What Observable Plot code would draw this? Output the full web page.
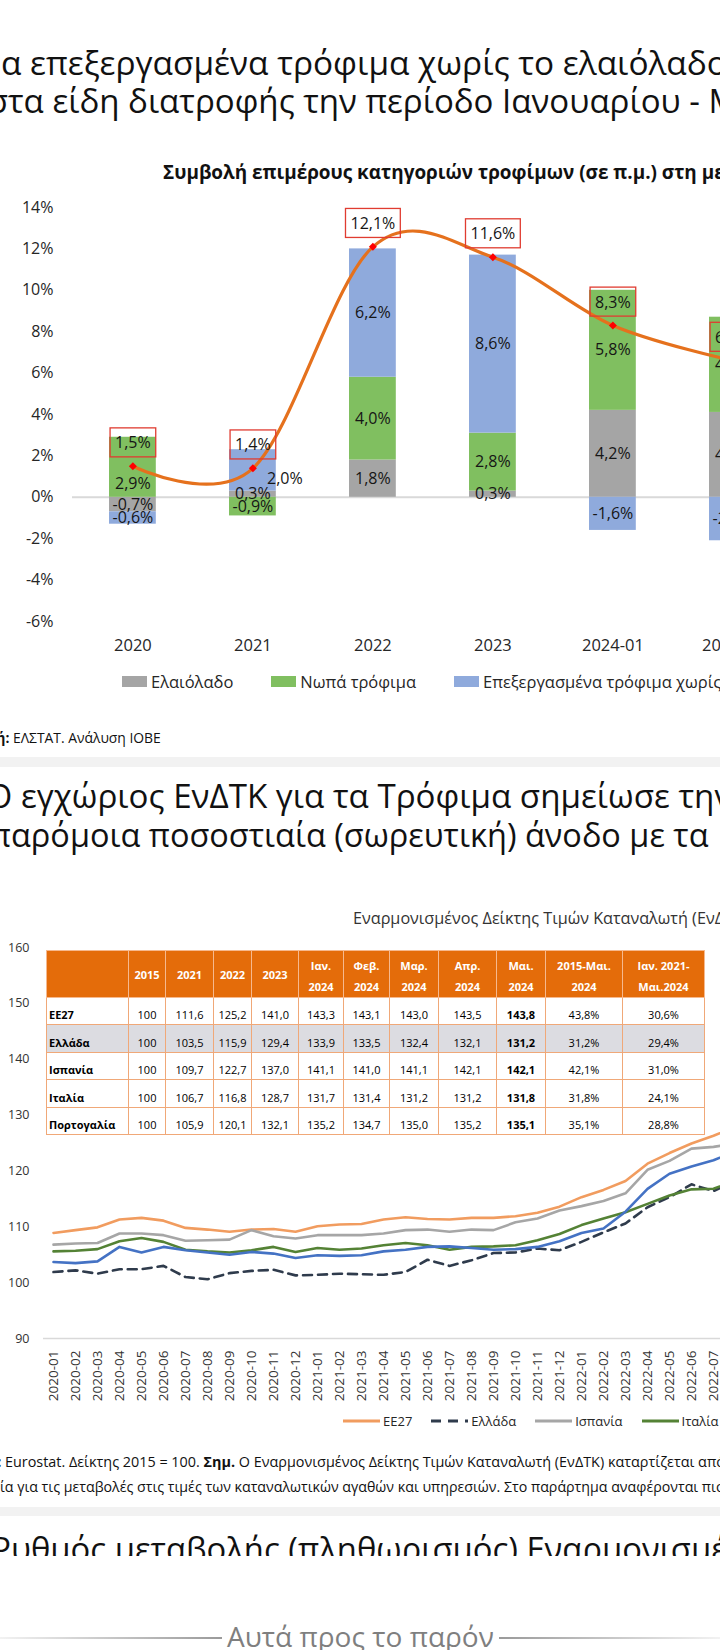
<!DOCTYPE html>
<html lang="el">
<head>
<meta charset="utf-8">
<title>ΕνΔΤΚ τροφίμων</title>
<script src="https://cdn.jsdelivr.net/npm/d3@7"></script>
<script src="https://cdn.jsdelivr.net/npm/@observablehq/plot@0.6"></script>
<style>
html, body { margin:0; padding:0; background:#fff; overflow:hidden; }
body { position:relative; width:720px; height:1650px; font-family:"Open Sans","Noto Sans",sans-serif; color:#111; }
.abs { position:absolute; white-space:nowrap; line-height:1.2; }
.band { position:absolute; left:0; width:720px; background:#F2F2F2; }
.chart { position:absolute; left:0; }
.legend { position:absolute; display:flex; align-items:center; white-space:nowrap; color:#262626; }
.legend .item { display:flex; align-items:center; }
table.hicp { position:absolute; left:46px; top:950px; width:658px; border-collapse:collapse; table-layout:fixed; font-size:11px; color:#000; background:#fff; }
table.hicp th { background:#E46C0A; color:#fff; font-weight:700; border:1px solid #F6B98E; text-align:center; vertical-align:top; padding:4px 0 0 0; line-height:21px; height:41px; }
table.hicp th.one { vertical-align:middle; padding:0; }
table.hicp td { border:1px solid #F0A878; text-align:center; vertical-align:bottom; padding:0 0 2px 0; line-height:14px; height:24.4px; }
table.hicp td.name { text-align:left; font-weight:700; padding-left:2px; }
table.hicp tr.gr td { background:#DCDCE1; }
table.hicp td.b { font-weight:700; }
</style>
</head>
<body>
<script>
// ================= DATA : chart 1 (contributions, p.p.) =================
const barCategories = ["2020", "2021", "2022", "2023", "2024-01", "2024-02"];
const barSeries = ["Ελαιόλαδο", "Νωπά τρόφιμα", "Επεξεργασμένα τρόφιμα χωρίς το ελαιόλαδο"];
const oliveOil      = [-0.7,  0.3, 1.8, 0.3,  4.2,  4.1];
const freshFood     = [ 2.9, -0.9, 4.0, 2.8,  5.8,  4.6];
const processedFood = [-0.6,  2.0, 6.2, 8.6, -1.6, -2.1];
const totalChange   = [ 1.5,  1.4, 12.1, 11.6, 8.3, 6.6];
const yTicks1 = [-6, -4, -2, 0, 2, 4, 6, 8, 10, 12, 14];

// ================= DATA : chart 2 (HICP food, 2015 = 100) =================
const months = ["2020-01","2020-02","2020-03","2020-04","2020-05","2020-06","2020-07","2020-08","2020-09","2020-10","2020-11","2020-12",
                "2021-01","2021-02","2021-03","2021-04","2021-05","2021-06","2021-07","2021-08","2021-09","2021-10","2021-11","2021-12",
                "2022-01","2022-02","2022-03","2022-04","2022-05","2022-06","2022-07","2022-08"];
const countries = ["ΕΕ27", "Ελλάδα", "Ισπανία", "Ιταλία", "Πορτογαλία"];
const ee27     = [108.9,109.4,109.9,111.3,111.6,111.1,109.8,109.5,109.1,109.5,109.6,109.1,
                  110.1,110.4,110.5,111.3,111.7,111.4,111.3,111.6,111.6,111.9,112.5,113.6,
                  115.3,116.6,118.2,121.3,123.2,124.9,126.3,127.9];
const greece   = [101.9,102.2,101.6,102.4,102.4,103.0,101.0,100.6,101.7,102.1,102.3,101.3,
                  101.4,101.6,101.5,101.4,101.9,104.1,103.0,104.0,105.3,105.4,106.1,105.8,
                  107.3,109.0,110.6,113.5,115.3,117.6,116.4,118.2];
const spain    = [106.8,107.0,107.1,108.8,108.8,108.5,107.5,107.6,107.7,109.4,108.3,107.9,
                  108.5,108.5,108.5,108.8,109.4,109.5,109.1,109.5,109.4,110.8,111.5,112.9,
                  113.7,114.6,116.0,120.2,121.8,124.0,124.3,124.9];
const italy    = [105.6,105.7,106.0,107.4,108.0,107.3,105.9,105.6,105.4,105.8,106.4,105.5,
                  106.2,105.9,106.1,106.7,107.1,106.7,105.9,106.4,106.5,106.7,107.6,108.7,
                  110.3,111.5,112.6,114.1,115.6,116.7,116.8,118.3];
const portugal = [103.7,103.5,103.8,106.4,105.4,106.4,105.8,105.4,105.0,105.5,105.2,104.4,
                  104.9,104.8,104.9,105.6,105.9,106.4,106.5,106.2,105.9,106.0,106.4,107.4,
                  108.9,109.7,112.7,116.8,119.5,120.8,121.9,123.5];
const yTicks2 = [90, 100, 110, 120, 130, 140, 150, 160];

// ================= DATA : table =================
const tableHead = [[""], ["2015"], ["2021"], ["2022"], ["2023"], ["Ιαν.", "2024"], ["Φεβ.", "2024"], ["Μαρ.", "2024"],
                   ["Απρ.", "2024"], ["Μαι.", "2024"], ["2015-Μαι.", "2024"], ["Ιαν. 2021-", "Μαι.2024"]];
const tableRows = [
  ["ΕΕ27",       "100", "111,6", "125,2", "141,0", "143,3", "143,1", "143,0", "143,5", "143,8", "43,8%", "30,6%"],
  ["Ελλάδα",     "100", "103,5", "115,9", "129,4", "133,9", "133,5", "132,4", "132,1", "131,2", "31,2%", "29,4%"],
  ["Ισπανία",    "100", "109,7", "122,7", "137,0", "141,1", "141,0", "141,1", "142,1", "142,1", "42,1%", "31,0%"],
  ["Ιταλία",     "100", "106,7", "116,8", "128,7", "131,7", "131,4", "131,2", "131,2", "131,8", "31,8%", "24,1%"],
  ["Πορτογαλία", "100", "105,9", "120,1", "132,1", "135,2", "134,7", "135,0", "135,2", "135,1", "35,1%", "28,8%"]
];

// ================= styles =================
const barColors  = ["#A5A5A5", "#80BF60", "#8FAADC"];
const lineColors = ["#F19C5F", "#2F3B4C", "#A6A6A6", "#548235", "#4472C4"];
const colWidths  = [82, 37, 48, 38, 47, 45, 46, 49, 58, 49, 77, 82];

const body = document.body;
function div(cls, css) { const d = document.createElement("div"); if (cls) d.className = cls; Object.assign(d.style, css || {}); body.appendChild(d); return d; }

// separator bands
div("band", {top: "757px", height: "10px"});
div("band", {top: "1507px", height: "9px"});

// ================= chart 1 =================
const pct = v => (v < 0 ? "-" : "") + Math.abs(v).toFixed(1).replace(".", ",") + "%";
const seriesValues = [oliveOil, freshFood, processedFood];
const barData = barCategories.flatMap((cat, i) => barSeries.map((s, k) => ({cat, series: s, value: seriesValues[k][i]})));
const totalData = barCategories.map((cat, i) => ({cat, total: totalChange[i]}));
const movedA = d => d.cat === "2020" && d.series === barSeries[1];
const movedB = d => d.cat === "2021" && d.series === barSeries[2];

const chart1 = Plot.plot({
  width: 800, height: 540,
  marginLeft: 72, marginRight: 0, marginTop: 0, marginBottom: 99,
  style: {background: "transparent", maxWidth: "none", overflow: "visible", fontFamily: "'Open Sans', sans-serif", color: "#262626"},
  x: {type: "band", domain: barCategories, range: [72.4, 72.4 + 120 * barCategories.length], paddingInner: 0.61, paddingOuter: 0.305, round: false},
  y: {domain: [-6, 14], range: [441, 27]},
  color: {domain: barSeries, range: barColors},
  marks: [
    Plot.ruleY([0], {stroke: "#D9D9D9", strokeWidth: 2}),
    Plot.axisY({ticks: yTicks1, tickSize: 0, tickPadding: 19, tickFormat: d => d + "%", fontSize: 16, label: null}),
    Plot.axisX({tickSize: 0, tickPadding: 18, fontSize: 16.5, label: null}),
    Plot.barY(barData, {x: "cat", y: "value", fill: "series"}),
    Plot.text(barData, Plot.stackY({x: "cat", y: "value", text: d => (movedA(d) || movedB(d)) ? "" : pct(d.value), fontSize: 16, fill: "#161616"})),
    Plot.text(barData, Plot.stackY({x: "cat", y: "value", text: d => movedA(d) ? pct(d.value) : "", fontSize: 16, fill: "#161616", dy: 17})),
    Plot.text(barData, Plot.stackY({x: "cat", y: "value", text: d => movedB(d) ? pct(d.value) : "", fontSize: 16, fill: "#161616", dx: 32, dy: 8})),
    Plot.line(totalData, {x: "cat", y: "total", curve: "cardinal", stroke: "#E5711D", strokeWidth: 3.2}),
    Plot.dot(totalData, {x: "cat", y: "total", symbol: "diamond2", r: 3.6, fill: "#FF0000"}),
    Plot.text(totalData, {x: "cat", y: "total", text: d => pct(d.total), dy: -23, fontSize: 16, fill: "#161616"})
  ]
});
chart1.classList.add("chart");
chart1.style.top = "180px";
body.appendChild(chart1);
// red frames around the total labels
const totalLabels = new Set(totalChange.map(pct));
chart1.querySelectorAll("text").forEach(t => {
  if (!totalLabels.has(t.textContent.trim())) return;
  const b = t.getBBox();
  const r = document.createElementNS("http://www.w3.org/2000/svg", "rect");
  r.setAttribute("x", b.x - 5); r.setAttribute("y", b.y - 3.5);
  r.setAttribute("width", b.width + 10); r.setAttribute("height", b.height + 7);
  r.setAttribute("fill", "none"); r.setAttribute("stroke", "#E03C31"); r.setAttribute("stroke-width", 1.3);
  if (t.getAttribute("transform")) r.setAttribute("transform", t.getAttribute("transform"));
  t.parentNode.insertBefore(r, t);
});

// ================= chart 2 =================
const seriesList = [ee27, greece, spain, italy, portugal];
const lineData = countries.flatMap((country, k) => months.map((month, i) => ({country, month, value: seriesList[k][i]})));
const chart2 = Plot.plot({
  width: 800, height: 520,
  marginLeft: 43, marginRight: 0, marginTop: 0, marginBottom: 82,
  style: {background: "transparent", maxWidth: "none", overflow: "visible", fontFamily: "'Open Sans', sans-serif", color: "#333"},
  x: {type: "point", domain: months, range: [53, 53 + 22 * (months.length - 1)], padding: 0, round: false},
  y: {domain: [90, 160], range: [438, 47]},
  marks: [
    Plot.ruleY([90], {stroke: "#D9D9D9", strokeWidth: 1.5}),
    Plot.axisY({ticks: yTicks2, tickSize: 0, tickPadding: 14, fontSize: 12.5, label: null}),
    Plot.axisX({tickRotate: -90, tickSize: 0, tickPadding: 12, fontSize: 13.5, label: null}),
    ...countries.map((c, k) => Plot.line(lineData.filter(d => d.country === c), Object.assign(
      {x: "month", y: "value", stroke: lineColors[k], strokeWidth: 2.6},
      k === 1 ? {strokeDasharray: "9,6"} : {}
    )))
  ]
});
chart2.classList.add("chart");
chart2.style.top = "900px";
body.appendChild(chart2);

// ================= text placement helper =================
function place({pre = "", fit, rest = "", x0, x1, yc, capTop, weight = 400, color = "#111"}) {
  const el = div("abs", {fontWeight: weight, color, fontSize: "40px", left: "0px", top: "0px"});
  el.innerHTML = `<span>${pre}</span><span class="fit">${fit}</span><span>${rest}</span>`;
  const f = el.querySelector(".fit");
  const r0 = el.getBoundingClientRect(), rf = f.getBoundingClientRect();
  const s = 40 * (x1 - x0) / rf.width;
  const off = (rf.left - r0.left) * s / 40;
  el.style.fontSize = s + "px";
  el.style.left = (x0 - off) + "px";
  el.style.top = (capTop != null ? capTop - (0.988 - 0.714) * s : yc - (0.988 - 0.27) * s) + "px";
  return el;
}

// section 1 texts
place({fit: "α επεξεργασμένα τρόφιμα χωρίς το ελαιόλαδ", rest: "ο συνέβαλαν", x0: 1, x1: 707, yc: 65.5});
place({pre: "σ", fit: "τα είδη διατροφής την περίοδο Ιανουαρίου", rest: " - Μαΐου 2024", x0: 8, x1: 681, yc: 105});
place({fit: "Συμβολή επιμέρους κατηγοριών τροφίμων (σε π.μ.) στη", rest: " μεταβολή του ΕνΔΤΚ τροφίμων", x0: 163, x1: 697, yc: 175, weight: 700});
place({pre: "<b>Πηγή:</b> ", fit: "ΕΛΣΤΑΤ. Ανάλυση ΙΟΒΕ", x0: 13, x1: 161, yc: 740, color: "#111"});

// legend 1
const lg1 = div("legend", {left: "122px", top: "669px", height: "24px", fontSize: "16.5px", gap: "38px"});
barSeries.forEach((s, k) => {
  const it = document.createElement("div"); it.className = "item";
  it.innerHTML = `<span style="display:inline-block;width:25px;height:11px;background:${barColors[k]};margin-right:4px"></span><span>${s}</span>`;
  lg1.appendChild(it);
});

// section 2 texts
place({pre: "Ο ", fit: "εγχώριος ΕνΔΤΚ για τα Τρόφιμα σημείωσε", rest: " την", x0: 21, x1: 670, yc: 800});
place({pre: "π", fit: "αρόμοια ποσοστιαία (σωρευτική) άνοδο με", rest: " τα", x0: 11, x1: 665, yc: 839});
place({fit: "Εναρμονισμένος Δείκτης Τιμών Καταναλωτή", rest: " (ΕνΔΤΚ) για τα Τρόφιμα", x0: 353, x1: 688, yc: 921, color: "#333"});

// table (overlaid on the line chart)
const tbl = document.createElement("table"); tbl.className = "hicp";
const cg = document.createElement("colgroup");
colWidths.forEach(w => { const c = document.createElement("col"); c.style.width = w + "px"; cg.appendChild(c); });
tbl.appendChild(cg);
const hr = document.createElement("tr");
tableHead.forEach(h => { const th = document.createElement("th"); if (h.length === 1) th.className = "one"; th.innerHTML = h.join("<br>"); hr.appendChild(th); });
tbl.appendChild(hr);
tableRows.forEach((row, r) => {
  const tr = document.createElement("tr"); if (row[0] === "Ελλάδα") tr.className = "gr";
  row.forEach((v, j) => { const td = document.createElement("td"); if (j === 0) td.className = "name"; if (j === 9) td.className = "b"; td.textContent = v; tr.appendChild(td); });
  tbl.appendChild(tr);
});
body.appendChild(tbl);

// legend 2
const lg2 = div("legend", {left: "343px", top: "1411px", height: "20px", fontSize: "13px", gap: "19px"});
countries.forEach((c, k) => {
  const it = document.createElement("div"); it.className = "item";
  const dash = k === 1 ? 'stroke-dasharray="10,7"' : "";
  it.innerHTML = `<svg width="37" height="8" style="margin-right:3px"><line x1="0" x2="37" y1="4" y2="4" stroke="${lineColors[k]}" stroke-width="3" ${dash}/></svg><span>${c}</span>`;
  lg2.appendChild(it);
});

place({pre: "<b>Πηγή:</b> ", fit: "Eurostat. Δείκτης 2015 = 100. <b>Σημ.</b> Ο Εναρμονισμένος Δείκτης Τιμών Καταναλωτή (ΕνΔΤΚ) καταρτίζεται", rest: " από τη Eurostat", x0: 5, x1: 695, yc: 1463});
place({pre: "στοιχε", fit: "ία για τις μεταβολές στις τιμές των καταναλωτικών αγαθών και υπηρεσιών. Στο παράρτημα αναφέρονται", rest: " πιο αναλυτικά στοιχεία.", x0: 0, x1: 699, yc: 1488});

// section 3 (covered by the end-of-feed overlay)
place({pre: "Ρ", fit: "υθμός μεταβολής (πληθωρισμός)", rest: " Εναρμονισμένου Δείκτη Τιμών Καταναλωτή", x0: 11, x1: 518, capTop: 1538});
div("", {position: "absolute", left: "0px", top: "1556px", width: "720px", height: "94px", background: "#fff"});
div("", {position: "absolute", left: "0px", top: "1637px", width: "222px", height: "2px", background: "linear-gradient(to right, rgba(170,170,170,0.15), #9A9A9A)"});
div("", {position: "absolute", left: "499px", top: "1637px", width: "221px", height: "2px", background: "linear-gradient(to left, rgba(170,170,170,0.15), #9A9A9A)"});
place({fit: "Αυτά προς το παρόν", x0: 227, x1: 494, capTop: 1628, color: "#7F7F7F"});
</script>
</body>
</html>
